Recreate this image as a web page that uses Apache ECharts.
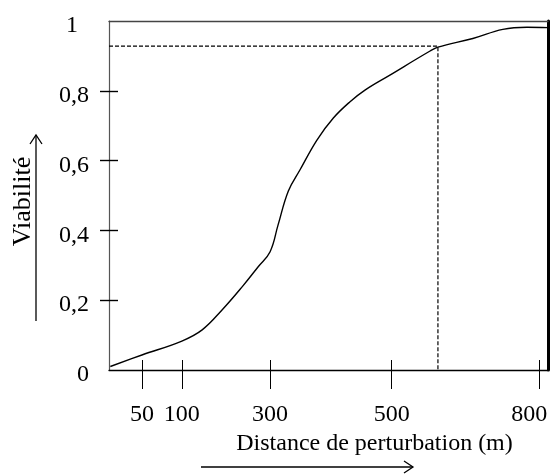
<!DOCTYPE html>
<html>
<head>
<meta charset="utf-8">
<script src="https://cdn.jsdelivr.net/npm/echarts@6/dist/echarts.min.js"></script>
<style>
html,body{margin:0;padding:0;background:#fff;}
#c{width:555px;height:474px;}
</style>
</head>
<body>
<div id="c"></div>
<script>
// ---- data ----
const xTickLabels = [50, 100, 300, 500, 800];            // distances printed under the axis (m)
const xTickScale  = [7.5, 16.6, 36.7, 64.4, 98.0];        // where the hand-drawn axis puts each of them (0–100 axis scale)
const yLabelValues = [0, 0.2, 0.4, 0.6, 0.8, 1];
const yTickValues  = [0.2, 0.4, 0.6, 0.8];
const distance  = [2, 50, 100, 146, 191, 237, 273, 300, 313, 330, 349, 377, 404, 431, 456, 497, 578, 594, 665, 726, 775, 818];
const viability = [0.01, 0.043, 0.083, 0.115, 0.172, 0.239, 0.296, 0.339, 0.415, 0.513, 0.573, 0.659, 0.722, 0.768, 0.802, 0.845, 0.914, 0.925, 0.95, 0.976, 0.982, 0.981];
const refDistance = 594;
const refViability = 0.928;

// non-linear (piecewise) distance scale of the original figure
const anchorD = [0].concat(xTickLabels);
const anchorP = [0].concat(xTickScale);
function distToScale(d) {
  let i = 1;
  while (i < anchorD.length - 1 && d > anchorD[i]) i++;
  const d0 = anchorD[i - 1], d1 = anchorD[i], p0 = anchorP[i - 1], p1 = anchorP[i];
  return p0 + (d - d0) / (d1 - d0) * (p1 - p0);
}

const curve = distance.map((d, i) => [distToScale(d), viability[i]]);
const refLine = [[0, refViability], [distToScale(refDistance), refViability], [distToScale(refDistance), 0]];

const FONT = '"Liberation Serif", "Times New Roman", serif';
const gridBox = {left: 109, right: 7, top: 21, bottom: 104, containLabel: false, outerBoundsMode: 'none'};
const hidden = {axisLine: {show: false, onZero: false}, axisTick: {show: false}, axisLabel: {show: false}, splitLine: {show: false}};
const chart = echarts.init(document.getElementById('c'), null, {renderer: 'canvas'});
chart.setOption({
  animation: false,
  backgroundColor: '#fff',
  grid: [Object.assign({}, gridBox), Object.assign({}, gridBox)],
  xAxis: [
    {
      gridIndex: 0, type: 'value', min: 0, max: 100, position: 'bottom',
      axisLine: {show: true, onZero: false, lineStyle: {color: '#000', width: 1.3}},
      axisTick: {show: true, inside: false, length: 19, customValues: xTickScale, lineStyle: {color: '#000', width: 1}},
      axisLabel: {
        show: true, customValues: xTickScale, margin: 33,
        fontFamily: FONT, fontSize: 24, color: '#000',
        formatter: v => {
          const lab = xTickLabels[xTickScale.indexOf(v)];
          return lab === 800 ? '{r|' + lab + '}' : String(lab);
        },
        rich: {r: {fontFamily: FONT, fontSize: 24, color: '#000', padding: [0, 20, 0, 0]}}
      },
      splitLine: {show: false},
      name: 'Distance de perturbation (m)', nameLocation: 'middle', nameGap: 43,
      nameTextStyle: {fontFamily: FONT, fontSize: 24, color: '#000', padding: [0, 0, 0, 92]}
    },
    {
      gridIndex: 0, type: 'value', min: 0, max: 100, position: 'top',
      axisLine: {show: true, onZero: false, lineStyle: {color: '#444', width: 1.3}},
      axisTick: {show: false}, axisLabel: {show: false}, splitLine: {show: false}
    },
    Object.assign({gridIndex: 1, type: 'value', min: 0, max: 100, position: 'bottom'}, hidden,
      {axisTick: {show: true, inside: true, length: 10, customValues: xTickScale, lineStyle: {color: '#000', width: 1}}})
  ],
  yAxis: [
    {
      gridIndex: 0, type: 'value', min: 0, max: 1, interval: 0.2, position: 'left',
      axisLine: {show: true, onZero: false, lineStyle: {color: '#555', width: 1.2}},
      axisTick: {show: true, inside: false, length: 9, customValues: yTickValues, lineStyle: {color: '#000', width: 1.4}},
      axisLabel: {
        show: true, customValues: yLabelValues, margin: 20,
        fontFamily: FONT, fontSize: 24, color: '#000', padding: [10, 0, 0, 0],
        formatter: v => {
          if (v === 1) return '{one|1}';
          if (v === 0) return '0';
          return v.toFixed(1).replace('.', ',');
        },
        rich: {one: {fontFamily: FONT, fontSize: 24, color: '#000', padding: [0, 11, 0, 0]}}
      },
      splitLine: {show: false},
      name: 'Viabilité', nameLocation: 'middle', nameGap: 73, nameRotate: 90,
      nameTextStyle: {fontFamily: FONT, fontSize: 26, color: '#000', padding: [0, 12, 0, 0]}
    },
    {
      gridIndex: 0, type: 'value', min: 0, max: 1, position: 'right',
      axisLine: {show: true, onZero: false, lineStyle: {color: '#000', width: 3}},
      axisTick: {show: false}, axisLabel: {show: false}, splitLine: {show: false}
    },
    Object.assign({gridIndex: 1, type: 'value', min: 0, max: 1, position: 'left'}, hidden,
      {axisTick: {show: true, inside: true, length: 9, customValues: yTickValues, lineStyle: {color: '#000', width: 1.4}}})
  ],
  series: [
    {
      type: 'line', xAxisIndex: 0, yAxisIndex: 0, data: curve,
      smooth: 0.4, showSymbol: false, symbol: 'none',
      lineStyle: {color: '#000', width: 1.4}
    },
    {
      type: 'line', xAxisIndex: 0, yAxisIndex: 0, data: refLine,
      showSymbol: false, symbol: 'none',
      lineStyle: {color: '#000', width: 1.2, type: [4, 2]}
    }
  ],
  graphic: [
    {type: 'line', shape: {x1: 36, y1: 321, x2: 36, y2: 135}, style: {stroke: '#000', lineWidth: 1.3}},
    {type: 'polyline', shape: {points: [[30, 144], [36, 135], [42, 144]]}, style: {stroke: '#000', lineWidth: 1.3, fill: null}},
    {type: 'line', shape: {x1: 201, y1: 467, x2: 413, y2: 467}, style: {stroke: '#000', lineWidth: 1.3}},
    {type: 'polyline', shape: {points: [[404, 461], [413, 467], [404, 473]]}, style: {stroke: '#000', lineWidth: 1.3, fill: null}}
  ]
});
</script>
</body>
</html>
